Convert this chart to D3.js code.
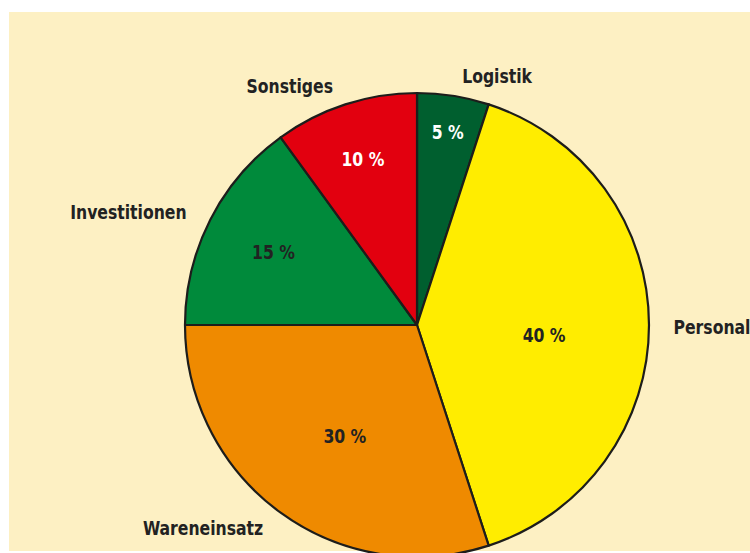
<!DOCTYPE html>
<html><head><meta charset="utf-8">
<script src="https://cdn.jsdelivr.net/npm/d3@7"></script>
<style>
html,body{margin:0;padding:0;background:#fff;}
svg text{font-family:"DejaVu Sans Condensed","DejaVu Sans",sans-serif;font-weight:bold;}
</style></head>
<body>
<svg id="chart" width="750" height="553"></svg>
<script>
const categories = ["Logistik","Personal","Wareneinsatz","Investitionen","Sonstiges"];
const values = [5,40,30,15,10];
const valueLabels = ["5 %","40 %","30 %","15 %","10 %"];
const colors = ["#005f2f","#ffed00","#ef8a00","#008a3b","#e2000f"];
const valueTextColors = ["#ffffff","#222222","#222222","#222222","#ffffff"];
// layout: value label angle (deg) & radius, category label angle (deg) & radius
const innerAngle = [9,94.5,213,297,342];
const innerR = [196,127.5,132.5,161,175];
const outerAngle = [17.8,90.4,-133.5,-68.6,-28];
const outerR = [262,295,295,310,271];

const W=750,H=553, cx=417, cy=325, R=232, sx=0.87;
const svg=d3.select("#chart");
svg.append("rect").attr("x",9).attr("y",12).attr("width",W-9).attr("height",539).attr("fill","#fdf0c3");
const g=svg.append("g").attr("transform",`translate(${cx},${cy})`);
const pie=d3.pie().sort(null).value(d=>d)(values);
const arc=d3.arc().innerRadius(0).outerRadius(R);
g.selectAll("path").data(pie).join("path").attr("d",arc)
  .attr("fill",(d,i)=>colors[i]).attr("stroke","#1d1d1b").attr("stroke-width",2.2).attr("stroke-linejoin","round");
const pos=(angDeg,r)=>{const a=angDeg*Math.PI/180;return [Math.sin(a)*r,-Math.cos(a)*r];};
g.selectAll("text.v").data(pie).join("text").attr("class","v")
  .attr("transform",(d,i)=>{const p=pos(innerAngle[i],innerR[i]);return `translate(${p[0]},${p[1]}) scale(${sx},1)`;})
  .attr("text-anchor","middle").attr("dy","0.36em").attr("font-size",20)
  .attr("fill",(d,i)=>valueTextColors[i]).text((d,i)=>valueLabels[i]);
g.selectAll("text.c").data(categories).join("text").attr("class","c")
  .attr("transform",(d,i)=>{const p=pos(outerAngle[i],outerR[i]);return `translate(${p[0]},${p[1]}) scale(${sx},1)`;})
  .attr("text-anchor","middle").attr("dy","0.36em").attr("font-size",20)
  .attr("fill","#222222").text(d=>d);
</script>
</body></html>
